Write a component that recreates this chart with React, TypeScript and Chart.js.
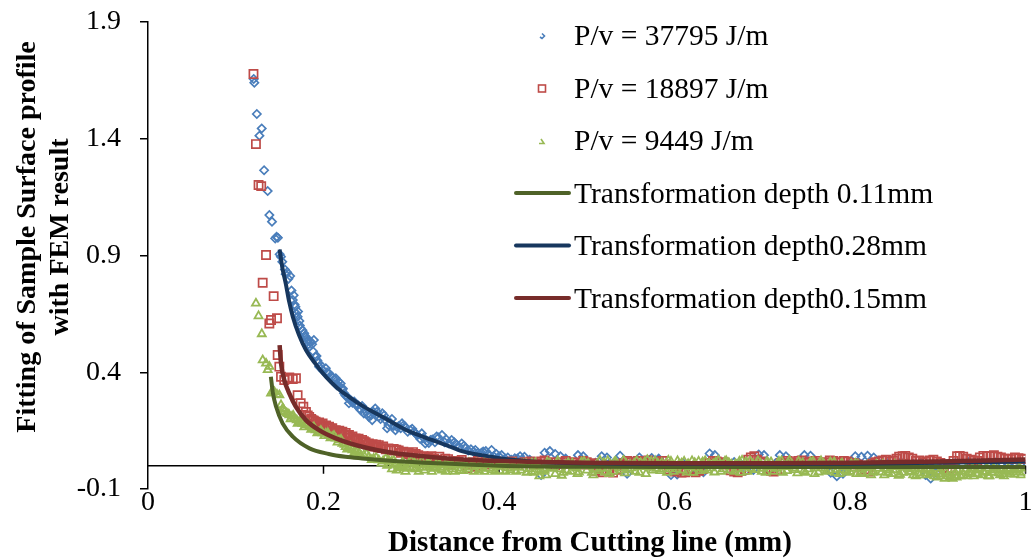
import React, { useEffect, useRef } from "react";
import { Chart, registerables } from "chart.js";

Chart.register(...registerables);

const FONT = "'Liberation Serif', 'Times New Roman', serif";

const xTickValues = [0, 0.2, 0.4, 0.6, 0.8, 1];
const xTickLabels = ["0", "0.2", "0.4", "0.6", "0.8", "1"];
const yTickValues = [-0.1, 0.4, 0.9, 1.4, 1.9];
const yTickLabels = ["-0.1", "0.4", "0.9", "1.4", "1.9"];

const xTitle = "Distance from Cutting line (mm)";
const yTitleLines = ["Fitting of Sample Surface profile", "with FEM result"];

const seriesNames = [
  "P/v = 37795 J/m",
  "P/v = 18897 J/m",
  "P/v = 9449 J/m",
  "Transformation depth 0.11mm",
  "Transformation depth0.28mm",
  "Transformation depth0.15mm",
];

// P/v = 37795 J/m (blue diamonds)
const blueSeries: [number, number][] = [
  [0.1205, 1.656], [0.1212, 1.64], [0.124, 1.506], [0.127, 1.413], [0.1296, 1.444],
  [0.1323, 1.265], [0.1364, 1.176], [0.1383, 1.073], [0.1413, 1.045], [0.145, 0.973],
  [0.1465, 0.98], [0.148, 0.976], [0.15, 0.905], [0.1515, 0.895], [0.153, 0.873],
  [0.156, 0.84], [0.1585, 0.828], [0.162, 0.812], [0.165, 0.709], [0.167, 0.69],
  [0.169, 0.652], [0.1705, 0.638], [0.1725, 0.62], [0.174, 0.588], [0.178, 0.567],
  [0.18, 0.55], [0.182, 0.538], [0.184, 0.509], [0.1855, 0.531], [0.189, 0.538],
  [0.191, 0.466], [0.193, 0.45], [0.195, 0.424], [0.199, 0.41], [0.2026, 0.417],
  [0.2063, 0.395], [0.21, 0.381], [0.214, 0.374], [0.217, 0.36], [0.2196, 0.352],
  [0.2215, 0.325], [0.2234, 0.31], [0.227, 0.295], [0.229, 0.267], [0.233, 0.27],
  [0.235, 0.274], [0.239, 0.26], [0.2423, 0.238], [0.244, 0.255], [0.246, 0.224],
  [0.2517, 0.209], [0.2555, 0.195], [0.259, 0.245], [0.261, 0.231], [0.263, 0.21],
  [0.267, 0.224], [0.2706, 0.195], [0.2725, 0.16], [0.274, 0.174], [0.278, 0.2],
  [0.282, 0.152], [0.286, 0.17], [0.2895, 0.181], [0.293, 0.167], [0.299, 0.152],
  [0.301, 0.158], [0.305, 0.138], [0.31, 0.115], [0.312, 0.138], [0.316, 0.095],
  [0.32, 0.097], [0.324, 0.112], [0.329, 0.125], [0.335, 0.131], [0.34, 0.112],
  [0.346, 0.11], [0.352, 0.088], [0.3575, 0.095], [0.362, 0.075], [0.368, 0.07],
  [0.373, 0.067], [0.38, 0.055], [0.385, 0.062], [0.3915, 0.067], [0.397, 0.05],
  [0.403, 0.045], [0.41, 0.035], [0.418, 0.031], [0.424, 0.04], [0.429, 0.038],
  [0.435, 0.025], [0.442, 0.01], [0.448, -0.04], [0.452, 0.055], [0.458, 0.062],
  [0.464, 0.05], [0.47, 0.04], [0.476, 0.03], [0.482, 0.008], [0.49, 0.045],
  [0.496, 0.04], [0.503, 0.005], [0.51, 0.012], [0.517, 0.04], [0.523, 0.035],
  [0.53, 0.01], [0.538, 0.042], [0.546, -0.035], [0.552, 0.015], [0.56, 0.035],
  [0.567, 0.02], [0.574, 0.033], [0.582, 0.03], [0.59, 0.005], [0.596, -0.04],
  [0.603, -0.038], [0.61, 0.01], [0.617, -0.025], [0.625, -0.02], [0.633, -0.028],
  [0.64, 0.052], [0.646, 0.045], [0.653, 0.012], [0.66, 0.008], [0.668, 0.015],
  [0.675, 0.01], [0.682, -0.02], [0.69, -0.018], [0.696, 0.048], [0.702, 0.045],
  [0.708, -0.022], [0.715, 0.01], [0.72, 0.045], [0.727, 0.04], [0.733, 0.015],
  [0.74, 0.008], [0.748, 0.045], [0.755, 0.042], [0.762, 0.012], [0.77, 0.005],
  [0.778, -0.03], [0.785, -0.045], [0.792, -0.035], [0.8, 0.01], [0.806, 0.04],
  [0.813, 0.038], [0.82, 0.042], [0.827, 0.035], [0.834, 0.008], [0.842, 0.012],
  [0.85, 0.005], [0.858, 0.015], [0.865, 0.01], [0.872, 0.008], [0.88, 0.012],
  [0.886, -0.04], [0.892, -0.055], [0.898, -0.03], [0.905, 0.01], [0.912, 0.005],
  [0.92, 0.012], [0.928, 0.008], [0.935, 0.015], [0.943, 0.01], [0.95, 0.006],
  [0.958, 0.012], [0.965, 0.015], [0.973, 0.01], [0.98, 0.008], [0.988, 0.012],
  [0.995, 0.01],
  [0.157, 0.82], [0.16, 0.8], [0.1635, 0.75], [0.166, 0.73], [0.168, 0.68],
  [0.171, 0.66], [0.173, 0.6], [0.176, 0.58], [0.179, 0.555], [0.181, 0.53],
  [0.183, 0.52], [0.187, 0.52], [0.188, 0.49], [0.192, 0.47], [0.194, 0.44],
  [0.197, 0.43], [0.2, 0.405], [0.204, 0.4], [0.208, 0.385], [0.212, 0.37],
  [0.215, 0.345], [0.218, 0.34], [0.222, 0.33], [0.225, 0.3], [0.228, 0.29],
  [0.231, 0.28], [0.237, 0.26], [0.241, 0.245], [0.248, 0.235], [0.25, 0.22],
  [0.254, 0.215], [0.257, 0.23], [0.265, 0.2], [0.269, 0.215], [0.276, 0.185],
  [0.28, 0.17], [0.284, 0.165], [0.288, 0.16], [0.291, 0.172], [0.296, 0.145],
  [0.303, 0.145], [0.307, 0.13], [0.314, 0.12], [0.318, 0.105], [0.322, 0.11],
  [0.327, 0.1], [0.331, 0.12], [0.338, 0.1], [0.343, 0.095], [0.349, 0.1],
  [0.355, 0.08], [0.36, 0.085], [0.365, 0.065], [0.371, 0.06], [0.376, 0.055],
  [0.382, 0.06], [0.388, 0.05], [0.394, 0.04], [0.4, 0.04], [0.407, 0.03],
  [0.414, 0.025], [0.421, 0.03], [0.427, 0.022], [0.433, 0.02], [0.438, 0.015],
];

// P/v = 18897 J/m (red squares)
const redSeries: [number, number][] = [
  [0.1202, 1.677], [0.123, 1.377], [0.126, 1.202], [0.129, 1.197], [0.1307, 0.783],
  [0.1345, 0.902], [0.1383, 0.609], [0.1402, 0.624], [0.1432, 0.726], [0.147, 0.631],
  [0.1478, 0.474], [0.1497, 0.424], [0.1516, 0.381], [0.1553, 0.367], [0.159, 0.374],
  [0.161, 0.378], [0.165, 0.371], [0.1686, 0.374], [0.1705, 0.302], [0.174, 0.267],
  [0.177, 0.252], [0.18, 0.23], [0.1837, 0.209], [0.1875, 0.195], [0.191, 0.188],
  [0.195, 0.185], [0.199, 0.181], [0.203, 0.172], [0.2063, 0.167], [0.21, 0.16],
  [0.214, 0.152], [0.218, 0.15], [0.2215, 0.145], [0.2253, 0.14], [0.229, 0.131],
  [0.233, 0.125], [0.2366, 0.117], [0.24, 0.115], [0.244, 0.11], [0.248, 0.1],
  [0.2517, 0.095], [0.256, 0.092], [0.26, 0.09], [0.263, 0.088], [0.268, 0.082],
  [0.274, 0.074], [0.28, 0.072], [0.2857, 0.065], [0.291, 0.06], [0.297, 0.055],
  [0.302, 0.058], [0.308, 0.045], [0.314, 0.04], [0.32, 0.035], [0.326, 0.03],
  [0.332, 0.038], [0.3387, 0.03], [0.345, 0.005], [0.35, 0.02], [0.3575, 0.024],
  [0.364, -0.01], [0.37, 0.015], [0.376, 0.02], [0.383, 0.005], [0.39, 0.01],
  [0.397, 0.018], [0.404, 0.012], [0.411, 0.015], [0.418, 0.008], [0.425, 0.012],
  [0.432, 0.01], [0.44, 0.005], [0.448, 0.018], [0.456, 0.01], [0.464, 0.002],
  [0.472, 0.015], [0.48, 0.008], [0.488, 0.012], [0.496, 0.02], [0.504, 0.005],
  [0.51, -0.022], [0.518, -0.028], [0.526, -0.025], [0.534, -0.018], [0.542, 0.01],
  [0.55, 0.015], [0.558, 0.02], [0.566, 0.012], [0.574, 0.008], [0.582, 0.015],
  [0.59, 0.005], [0.6, -0.025], [0.608, -0.03], [0.616, -0.022], [0.624, -0.028],
  [0.632, -0.015], [0.64, 0.01], [0.648, 0.018], [0.656, 0.015], [0.664, -0.02],
  [0.672, -0.028], [0.68, -0.018], [0.687, 0.035], [0.694, 0.025], [0.702, 0.012],
  [0.71, -0.022], [0.717, -0.018], [0.725, 0.01], [0.733, 0.015], [0.741, 0.02],
  [0.749, 0.012], [0.757, 0.018], [0.765, 0.01], [0.773, 0.015], [0.781, 0.02],
  [0.789, 0.012], [0.797, 0.018], [0.805, 0.01], [0.813, -0.02], [0.821, -0.025],
  [0.829, 0.015], [0.837, 0.022], [0.845, 0.018], [0.853, 0.03], [0.86, 0.04],
  [0.867, 0.035], [0.875, 0.02], [0.883, 0.015], [0.891, 0.022], [0.899, 0.018],
  [0.907, -0.008], [0.915, -0.012], [0.922, 0.04], [0.929, 0.038], [0.937, 0.025],
  [0.945, 0.02], [0.952, 0.042], [0.96, 0.04], [0.968, 0.038], [0.976, 0.03],
  [0.984, 0.028], [0.992, 0.032], [0.999, 0.03],
  [0.182, 0.215], [0.186, 0.2], [0.189, 0.192], [0.193, 0.18], [0.197, 0.176],
  [0.201, 0.17], [0.205, 0.162], [0.208, 0.158], [0.212, 0.15], [0.216, 0.146],
  [0.22, 0.14], [0.224, 0.132], [0.227, 0.128], [0.231, 0.12], [0.235, 0.112],
  [0.238, 0.108], [0.242, 0.1], [0.246, 0.105], [0.25, 0.09], [0.254, 0.085],
  [0.258, 0.082], [0.262, 0.078], [0.266, 0.075], [0.271, 0.07], [0.277, 0.065],
  [0.283, 0.068], [0.288, 0.055], [0.294, 0.05], [0.3, 0.045], [0.305, 0.05],
  [0.311, 0.038], [0.317, 0.032], [0.323, 0.04], [0.329, 0.025], [0.335, 0.02],
  [0.342, 0.028], [0.348, 0.012], [0.354, 0.018], [0.361, 0.01], [0.367, 0.005],
  [0.373, -0.005], [0.38, 0.012], [0.387, 0.02], [0.394, 0.008], [0.401, 0.015],
  [0.408, 0.005], [0.415, 0.018], [0.422, 0.01], [0.429, 0.015],
  [0.436, 0.018], [0.444, 0.01], [0.452, 0.022], [0.46, 0.015], [0.468, 0.008],
  [0.476, 0.02], [0.484, 0.015], [0.492, 0.005], [0.5, 0.015], [0.508, 0.01],
  [0.514, -0.012], [0.522, -0.02], [0.53, -0.03], [0.538, 0.005], [0.546, 0.02],
  [0.554, 0.01], [0.562, 0.018], [0.57, 0.022], [0.578, 0.012], [0.586, 0.02],
  [0.594, -0.015], [0.604, -0.02], [0.612, -0.028], [0.62, -0.015], [0.628, -0.022],
  [0.636, 0.012], [0.644, 0.02], [0.652, 0.01], [0.66, 0.005], [0.668, -0.025],
  [0.676, -0.022], [0.684, 0.025], [0.691, 0.04], [0.698, 0.018], [0.706, -0.015],
  [0.713, -0.025], [0.721, 0.012], [0.729, 0.02], [0.737, 0.01], [0.745, 0.022],
  [0.753, 0.015], [0.761, 0.02], [0.769, 0.012], [0.777, 0.022], [0.785, 0.015],
  [0.793, 0.02], [0.801, 0.012], [0.809, 0.005], [0.817, -0.015], [0.825, 0.008],
  [0.833, 0.018], [0.841, 0.025], [0.849, 0.022], [0.856, 0.038], [0.863, 0.042],
  [0.871, 0.03], [0.879, 0.022], [0.887, 0.018], [0.895, 0.025], [0.903, 0.012],
  [0.911, -0.01], [0.918, 0.02], [0.925, 0.042], [0.933, 0.03], [0.941, 0.022],
  [0.948, 0.035], [0.956, 0.04], [0.964, 0.045], [0.972, 0.035], [0.98, 0.03],
  [0.988, 0.035], [0.996, 0.028],
];

// P/v = 9449 J/m (green triangles)
const greenSeries: [number, number][] = [
  [0.123, 0.695], [0.126, 0.641], [0.1297, 0.564], [0.1307, 0.452], [0.1345, 0.438],
  [0.1364, 0.41], [0.1383, 0.424], [0.1402, 0.31], [0.142, 0.318], [0.144, 0.316],
  [0.147, 0.305], [0.1497, 0.302], [0.1516, 0.26], [0.1535, 0.245], [0.1553, 0.231],
  [0.158, 0.225], [0.161, 0.217], [0.164, 0.21], [0.1667, 0.203], [0.1695, 0.195],
  [0.1723, 0.188], [0.176, 0.18], [0.18, 0.174], [0.184, 0.167], [0.1875, 0.16],
  [0.191, 0.152], [0.195, 0.145], [0.199, 0.14], [0.2026, 0.138], [0.206, 0.13],
  [0.21, 0.124], [0.214, 0.117], [0.2177, 0.11], [0.2215, 0.095], [0.2253, 0.081],
  [0.229, 0.074], [0.233, 0.067], [0.237, 0.06], [0.2404, 0.053], [0.246, 0.045],
  [0.2517, 0.038], [0.257, 0.03], [0.263, 0.024], [0.268, 0.02], [0.274, 0.024],
  [0.278, -0.015], [0.282, 0.01], [0.287, -0.005], [0.292, 0.005], [0.297, 0.01],
  [0.302, -0.01], [0.307, 0.005], [0.312, 0.017], [0.317, -0.005], [0.322, 0.0],
  [0.327, -0.012], [0.332, 0.008], [0.337, -0.008], [0.342, 0.004], [0.347, -0.015],
  [0.352, 0.002], [0.357, -0.01], [0.362, 0.006], [0.368, -0.006], [0.374, 0.01],
  [0.38, -0.012], [0.386, 0.004], [0.392, -0.018], [0.398, -0.004], [0.404, 0.008],
  [0.41, -0.01], [0.416, 0.002], [0.422, -0.008], [0.428, 0.006], [0.434, -0.014],
  [0.44, -0.03], [0.446, -0.045], [0.452, -0.02], [0.458, 0.01], [0.464, -0.035],
  [0.47, -0.015], [0.476, 0.005], [0.482, -0.025], [0.488, -0.01], [0.494, 0.015],
  [0.5, -0.02], [0.506, -0.03], [0.512, 0.008], [0.518, -0.012], [0.524, 0.02],
  [0.53, -0.025], [0.536, 0.0], [0.542, 0.022], [0.548, -0.018], [0.554, 0.01],
  [0.56, -0.03], [0.566, 0.015], [0.572, -0.008], [0.578, 0.02], [0.584, -0.022],
  [0.59, 0.005], [0.596, 0.018], [0.602, -0.015], [0.608, 0.01], [0.614, -0.028],
  [0.62, 0.02], [0.626, -0.01], [0.632, 0.015], [0.638, -0.02], [0.644, 0.008],
  [0.65, 0.022], [0.656, -0.015], [0.662, 0.012], [0.668, -0.025], [0.674, 0.018],
  [0.68, -0.005], [0.686, 0.02], [0.692, -0.018], [0.698, 0.01], [0.704, -0.03],
  [0.71, 0.015], [0.716, -0.012], [0.722, 0.02], [0.728, -0.022], [0.734, 0.005],
  [0.74, -0.032], [0.746, 0.012], [0.752, -0.015], [0.758, 0.018], [0.764, -0.028],
  [0.77, 0.008], [0.776, -0.02], [0.782, 0.015], [0.788, -0.035], [0.794, -0.005],
  [0.8, -0.025], [0.806, 0.01], [0.812, -0.03], [0.818, -0.01], [0.824, -0.04],
  [0.83, 0.005], [0.836, -0.028], [0.842, -0.012], [0.848, -0.035], [0.854, -0.005],
  [0.86, -0.03], [0.866, -0.015], [0.872, -0.04], [0.878, -0.01], [0.884, -0.032],
  [0.89, -0.018], [0.896, -0.045], [0.902, -0.025], [0.908, -0.055], [0.914, -0.05],
  [0.92, -0.03], [0.926, -0.045], [0.932, -0.015], [0.938, -0.035], [0.944, -0.02],
  [0.95, -0.04], [0.956, -0.01], [0.962, -0.03], [0.968, -0.018], [0.974, -0.035],
  [0.98, -0.012], [0.986, -0.028], [0.992, -0.015], [0.998, -0.03],
  [0.1545, 0.24], [0.1595, 0.222], [0.1625, 0.2], [0.1655, 0.215], [0.1705, 0.18],
  [0.174, 0.19], [0.178, 0.165], [0.182, 0.178], [0.186, 0.155], [0.189, 0.165],
  [0.193, 0.14], [0.197, 0.15], [0.201, 0.128], [0.205, 0.14], [0.208, 0.118],
  [0.212, 0.128], [0.216, 0.1], [0.22, 0.112], [0.224, 0.09], [0.227, 0.07],
  [0.231, 0.082], [0.235, 0.055], [0.239, 0.065], [0.243, 0.042], [0.249, 0.05],
  [0.255, 0.025], [0.26, 0.035], [0.266, 0.01], [0.271, 0.03], [0.276, 0.005],
  [0.28, 0.022], [0.285, -0.01], [0.29, 0.015], [0.295, -0.012], [0.3, 0.02],
  [0.305, -0.015], [0.31, 0.005], [0.315, -0.02], [0.32, 0.012], [0.325, -0.008],
  [0.33, 0.015], [0.335, -0.02], [0.34, 0.01], [0.345, -0.005], [0.35, 0.012],
  [0.355, -0.02], [0.36, 0.008], [0.365, -0.015], [0.371, 0.005], [0.377, -0.02],
  [0.383, 0.012], [0.389, -0.01], [0.395, 0.008], [0.401, -0.022], [0.407, 0.005],
  [0.413, -0.018], [0.419, 0.01], [0.425, -0.02], [0.431, 0.008], [0.437, -0.025],
  [0.443, -0.005], [0.449, -0.025], [0.455, 0.015], [0.461, -0.012], [0.467, 0.02],
  [0.473, -0.03], [0.479, 0.012], [0.485, -0.005], [0.491, -0.028], [0.497, 0.018],
  [0.503, 0.0], [0.509, -0.015], [0.515, 0.022], [0.521, -0.028], [0.527, 0.005],
  [0.533, 0.018], [0.539, -0.02], [0.545, 0.008], [0.551, -0.01], [0.557, 0.02],
  [0.563, -0.005], [0.569, 0.025], [0.575, -0.02], [0.581, 0.01], [0.587, -0.015],
  [0.593, 0.022], [0.599, -0.025], [0.605, 0.005], [0.611, 0.018], [0.617, -0.005],
  [0.623, 0.012], [0.629, -0.022], [0.635, 0.02], [0.641, -0.01], [0.647, 0.015],
  [0.653, -0.025], [0.659, 0.02], [0.665, 0.005], [0.671, -0.015], [0.677, 0.022],
  [0.683, -0.025], [0.689, 0.008], [0.695, 0.02], [0.701, -0.012], [0.707, 0.01],
  [0.713, -0.025], [0.719, 0.018], [0.725, -0.005], [0.731, 0.022], [0.737, -0.018],
  [0.743, 0.005], [0.749, -0.03], [0.755, 0.015], [0.761, -0.01], [0.767, 0.02],
  [0.773, -0.025], [0.779, 0.0], [0.785, -0.018], [0.791, 0.01], [0.797, -0.03],
  [0.803, -0.012], [0.809, 0.005], [0.815, -0.035], [0.821, -0.005], [0.827, -0.025],
  [0.833, 0.0], [0.839, -0.04], [0.845, -0.02], [0.851, 0.005], [0.857, -0.038],
  [0.863, -0.008], [0.869, -0.028], [0.875, -0.045], [0.881, -0.015], [0.887, -0.04],
  [0.893, -0.025], [0.899, -0.05], [0.905, -0.035], [0.911, -0.045], [0.917, -0.055],
  [0.923, -0.02], [0.929, -0.04], [0.935, -0.028], [0.941, -0.045], [0.947, -0.015],
  [0.953, -0.03], [0.959, -0.045], [0.965, -0.02], [0.971, -0.04], [0.977, -0.025],
  [0.983, -0.035], [0.989, -0.02], [0.995, -0.04],
  [0.2725, 0.0], [0.2775, 0.018], [0.2835, -0.02], [0.2885, 0.0], [0.2935, -0.025],
  [0.2985, -0.005], [0.3035, 0.012], [0.3085, -0.025], [0.3135, -0.008], [0.3185, 0.01],
  [0.3235, -0.025], [0.3285, 0.002], [0.3345, -0.015], [0.3395, -0.025], [0.3445, 0.01],
  [0.3495, -0.025], [0.3545, 0.005], [0.3595, -0.022], [0.3655, 0.012], [0.3715, -0.025],
  [0.3775, 0.0], [0.3835, -0.025], [0.3895, 0.008], [0.3955, -0.025], [0.4015, 0.0],
  [0.4075, -0.025], [0.4135, 0.008], [0.4195, -0.025], [0.4255, 0.005], [0.4315, -0.03],
  [0.4375, 0.01],
  [0.4415, 0.012], [0.4475, -0.018], [0.4535, -0.04], [0.4595, -0.008], [0.4655, 0.008],
  [0.4715, -0.042], [0.4775, -0.02], [0.4835, 0.01], [0.4895, -0.035], [0.4955, -0.002],
  [0.5015, 0.01], [0.5075, -0.04], [0.5135, -0.022], [0.5195, 0.012], [0.5255, -0.035],
  [0.5315, 0.015], [0.5375, -0.01], [0.5435, -0.032], [0.5495, 0.005], [0.5555, -0.025],
  [0.5615, 0.012], [0.5675, -0.035], [0.5735, 0.018], [0.5795, -0.012], [0.5855, 0.012],
  [0.5915, -0.03], [0.5975, -0.005], [0.6035, 0.02], [0.6095, -0.02], [0.6155, 0.008],
  [0.6215, -0.03], [0.6275, 0.018], [0.6335, -0.015], [0.6395, 0.01], [0.6455, -0.028],
  [0.6515, 0.005], [0.6575, 0.018], [0.6635, -0.02], [0.6695, 0.008], [0.6755, -0.03],
  [0.6815, 0.015], [0.6875, -0.012], [0.6935, 0.005], [0.6995, -0.025], [0.7055, 0.018],
  [0.7115, -0.005], [0.7175, 0.01], [0.7235, -0.03], [0.7295, 0.012], [0.7355, -0.01],
  [0.7415, 0.018], [0.7475, -0.022], [0.7535, 0.005], [0.7595, -0.035], [0.7655, 0.012],
  [0.7715, -0.012], [0.7775, 0.015], [0.7835, -0.03], [0.7895, 0.005], [0.7955, -0.02],
  [0.8015, 0.008], [0.8075, -0.035], [0.8135, -0.015], [0.8195, 0.002], [0.8255, -0.03],
  [0.8315, -0.012], [0.8375, 0.005], [0.8435, -0.03], [0.8495, -0.018], [0.8555, -0.042],
  [0.8615, 0.0], [0.8675, -0.025], [0.8735, -0.01], [0.8795, -0.04], [0.8855, -0.02],
  [0.8915, -0.035], [0.8975, -0.012], [0.9035, -0.045], [0.9095, -0.03], [0.9155, -0.04],
  [0.9215, -0.05], [0.9275, -0.025], [0.9335, -0.045], [0.9395, -0.01], [0.9455, -0.035],
  [0.9515, -0.025], [0.9575, -0.045], [0.9635, -0.012], [0.9695, -0.032], [0.9755, -0.045],
  [0.9815, -0.02], [0.9875, -0.038], [0.9935, -0.01],
];

// Transformation depth 0.11mm (dark green fit)
const fitGreen: [number, number][] = [
  [0.14, 0.381], [0.1424, 0.31], [0.146, 0.252], [0.1534, 0.181], [0.165, 0.124],
  [0.184, 0.074], [0.206, 0.05], [0.225, 0.038], [0.244, 0.031], [0.28, 0.02],
  [0.33, 0.01], [0.4, 0.0], [0.5, -0.005], [0.6, -0.006], [0.7, -0.006],
  [0.8, -0.006], [0.9, -0.006], [1.0, -0.006],
];

// Transformation depth0.28mm (navy fit)
const fitNavy: [number, number][] = [
  [0.15, 0.926], [0.153, 0.85], [0.157, 0.78], [0.161, 0.7], [0.165, 0.638],
  [0.172, 0.56], [0.18, 0.495], [0.19, 0.44], [0.2026, 0.381], [0.215, 0.335],
  [0.229, 0.295], [0.245, 0.255], [0.267, 0.209], [0.293, 0.155], [0.3235, 0.11],
  [0.342, 0.085], [0.3575, 0.062], [0.38, 0.045], [0.418, 0.024], [0.45, 0.015],
  [0.5, 0.01], [0.55, 0.008], [0.6, 0.007], [0.7, 0.007], [0.8, 0.008],
  [0.9, 0.012], [1.0, 0.018],
];

// Transformation depth0.15mm (dark red fit)
const fitRed: [number, number][] = [
  [0.15, 0.516], [0.1516, 0.438], [0.1553, 0.367], [0.161, 0.31], [0.1686, 0.252],
  [0.18, 0.195], [0.195, 0.152], [0.214, 0.117], [0.244, 0.081], [0.282, 0.053],
  [0.32, 0.038], [0.3575, 0.026], [0.433, 0.017], [0.5, 0.012], [0.6, 0.01],
  [0.7, 0.01], [0.8, 0.012], [0.9, 0.018], [1.0, 0.026],
];

const COLORS = {
  blue: "#4A7EBB",
  red: "#BE4B48",
  green: "#98B954",
  fitGreen: "#4F6228",
  fitNavy: "#17375E",
  fitRed: "#772C2A",
};

const toPts = (arr: [number, number][]) => arr.map(([x, y]) => ({ x, y }));

const decorPlugin = {
  id: "decor",
  beforeDatasetsDraw(chart: any) {
    const { ctx, scales } = chart;
    const xs = scales.x;
    const ys = scales.y;
    const py = ys.getPixelForValue(0);
    ctx.save();
    ctx.strokeStyle = "#000";
    ctx.lineWidth = 1.5;
    ctx.beginPath();
    ctx.moveTo(xs.getPixelForValue(0), py);
    ctx.lineTo(xs.getPixelForValue(1), py);
    for (const v of xTickValues) {
      if (v === 0) continue;
      const px = xs.getPixelForValue(v);
      ctx.moveTo(px, py);
      ctx.lineTo(px, py + 8);
    }
    ctx.stroke();
    ctx.restore();
  },
  afterDraw(chart: any) {
    const { ctx } = chart;
    ctx.save();
    ctx.fillStyle = "#000";
    ctx.font = `bold 29px ${FONT}`;
    ctx.textAlign = "center";
    ctx.textBaseline = "alphabetic";
    ctx.fillText(xTitle, 590, 551);
    ctx.font = `bold 28px ${FONT}`;
    const baseX = [35, 68];
    yTitleLines.forEach((line, i) => {
      ctx.save();
      ctx.translate(baseX[i], 237);
      ctx.rotate(-Math.PI / 2);
      ctx.fillText(line, 0, 0);
      ctx.restore();
    });

    ctx.font = `29.5px ${FONT}`;
    ctx.textAlign = "left";
    const textX = 574;
    const rowBase = [45, 97.5, 150, 202.5, 255, 307.5];
    ctx.lineWidth = 1.6;
    let cy = rowBase[0] - 9;
    ctx.strokeStyle = COLORS.blue;
    ctx.beginPath();
    ctx.moveTo(542, cy - 2.5);
    ctx.lineTo(544.5, cy);
    ctx.lineTo(542, cy + 2.5);
    ctx.lineTo(540, cy + 1);
    ctx.stroke();
    cy = rowBase[1] - 9;
    ctx.strokeStyle = COLORS.red;
    ctx.strokeRect(538.5, cy - 3.5, 7, 7);
    cy = rowBase[2] - 9;
    ctx.strokeStyle = COLORS.green;
    ctx.beginPath();
    ctx.moveTo(541, cy - 2);
    ctx.lineTo(544, cy + 2.5);
    ctx.lineTo(539, cy + 2.5);
    ctx.stroke();
    const lineCols = [COLORS.fitGreen, COLORS.fitNavy, COLORS.fitRed];
    ctx.lineWidth = 4;
    ctx.lineCap = "round";
    for (let i = 0; i < 3; i++) {
      const ly = rowBase[3 + i] - 9.5;
      ctx.strokeStyle = lineCols[i];
      ctx.beginPath();
      ctx.moveTo(516, ly);
      ctx.lineTo(569, ly);
      ctx.stroke();
    }
    ctx.fillStyle = "#000";
    seriesNames.forEach((name, i) => {
      ctx.fillText(name, textX, rowBase[i]);
    });
    ctx.restore();
  },
};

export default function App() {
  const canvasRef = useRef<HTMLCanvasElement | null>(null);

  useEffect(() => {
    const canvas = canvasRef.current;
    if (!canvas) return;
    const markerCommon = {
      showLine: false,
      backgroundColor: "rgba(0,0,0,0)",
      pointBorderWidth: 1.7,
      pointBackgroundColor: "rgba(0,0,0,0)",
    };
    const lineCommon = {
      showLine: true,
      pointRadius: 0,
      pointHoverRadius: 0,
      borderWidth: 4,
      cubicInterpolationMode: "monotone" as const,
      fill: false,
    };
    const chart = new Chart(canvas, {
      type: "scatter",
      data: {
        datasets: [
          {
            label: seriesNames[5],
            data: toPts(fitRed),
            borderColor: COLORS.fitRed,
            order: 0,
            ...lineCommon,
            borderWidth: 4.5,
          },
          {
            label: seriesNames[4],
            data: toPts(fitNavy),
            borderColor: COLORS.fitNavy,
            order: 1,
            ...lineCommon,
          },
          {
            label: seriesNames[3],
            data: toPts(fitGreen),
            borderColor: COLORS.fitGreen,
            order: 2,
            ...lineCommon,
          },
          {
            label: seriesNames[2],
            data: toPts(greenSeries),
            borderColor: COLORS.green,
            pointBorderColor: COLORS.green,
            pointStyle: "triangle",
            pointRadius: 4.6,
            order: 3,
            ...markerCommon,
            pointBorderWidth: 1.8,
          },
          {
            label: seriesNames[1],
            data: toPts(redSeries),
            borderColor: COLORS.red,
            pointBorderColor: COLORS.red,
            pointStyle: "rect",
            pointRadius: 5.8,
            order: 4,
            ...markerCommon,
          },
          {
            label: seriesNames[0],
            data: toPts(blueSeries),
            borderColor: COLORS.blue,
            pointBorderColor: COLORS.blue,
            pointStyle: "rectRot",
            pointRadius: 4.1,
            order: 5,
            ...markerCommon,
          },
        ] as any,
      },
      options: {
        responsive: false,
        animation: false,
        devicePixelRatio: 1,
        layout: { padding: { left: 0, top: 22, right: 3, bottom: 0 } },
        plugins: {
          legend: { display: false },
          tooltip: { enabled: false },
          title: { display: false },
        },
        events: [],
        scales: {
          x: {
            type: "linear",
            min: 0,
            max: 1,
            border: { display: false },
            grid: { display: false },
            afterBuildTicks: (s: any) => {
              s.ticks = xTickValues.map((v) => ({ value: v }));
            },
            afterFit: (s: any) => {
              s.height = 71;
              s.paddingLeft = 0;
              s.paddingRight = 0;
            },
            ticks: {
              autoSkip: false,
              maxRotation: 0,
              minRotation: 0,
              padding: -8,
              color: "#000",
              font: { family: FONT, size: 28, lineHeight: 1 },
              callback: (_v: any, i: number) => xTickLabels[i],
            },
          },
          y: {
            type: "linear",
            min: -0.1,
            max: 1.9,
            border: { display: true, color: "#000", width: 1.5 },
            grid: {
              display: true,
              drawOnChartArea: false,
              drawTicks: true,
              tickLength: 8,
              color: "#000",
              lineWidth: 1.5,
            },
            afterBuildTicks: (s: any) => {
              s.ticks = yTickValues.map((v) => ({ value: v }));
            },
            afterFit: (s: any) => {
              s.width = 148;
              s.paddingTop = 0;
              s.paddingBottom = 0;
            },
            ticks: {
              autoSkip: false,
              padding: 19,
              color: "#000",
              font: { family: FONT, size: 28, lineHeight: 1 },
              callback: (_v: any, i: number) => yTickLabels[i],
            },
          },
        },
      } as any,
      plugins: [decorPlugin],
    });
    return () => chart.destroy();
  }, []);

  return (
    <div style={{ position: "fixed", left: 0, top: 0, width: 1033, height: 560, background: "#fff" }}>
      <canvas ref={canvasRef} width={1033} height={560} style={{ display: "block" }} />
    </div>
  );
}
